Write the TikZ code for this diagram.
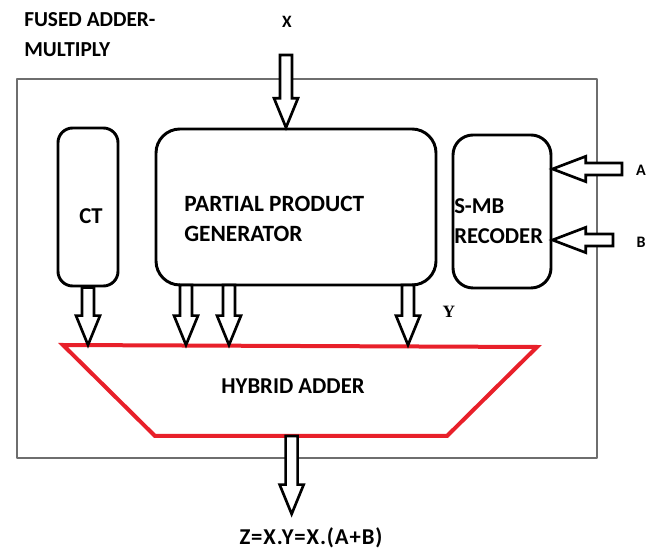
\documentclass[tikz,border=0pt]{standalone}
\usepackage{fontspec}
\setmainfont{Carlito}
\newfontfamily\ylabfont{Liberation Serif}
\usetikzlibrary{calc,positioning}
\definecolor{AdderRed}{HTML}{E8202A}
\definecolor{FrameGray}{HTML}{6E6E6E}

\tikzset{
  blk/.style={draw,line width=2.2pt},
  fat/.style={draw,line width=2pt,line join=miter,fill=white},
  lbl/.style={font=\bfseries\fontsize{17}{23}\selectfont,inner sep=0pt},
  pinlbl/.style={font=\bfseries\fontsize{12}{14}\selectfont,inner sep=0pt},
}
% block arrows: #1 tail, #2 tip
\newcommand{\fatdown}[2]{\draw[fat] let \p1=(#1),\p2=(#2) in
  ({\x1-4.5pt},\y1) -- ({\x1-4.5pt},{\y2+22pt}) -- ({\x1-9pt},{\y2+22pt}) -- (\x1,\y2)
  -- ({\x1+9pt},{\y2+22pt}) -- ({\x1+4.5pt},{\y2+22pt}) -- ({\x1+4.5pt},\y1) -- cycle;}
\newcommand{\fatleft}[2]{\draw[fat] let \p1=(#1),\p2=(#2) in
  (\x1,{\y1-4.5pt}) -- ({\x2+25pt},{\y1-4.5pt}) -- ({\x2+25pt},{\y1-9.5pt}) -- (\x2,\y1)
  -- ({\x2+25pt},{\y1+9.5pt}) -- ({\x2+25pt},{\y1+4.5pt}) -- (\x1,{\y1+4.5pt}) -- cycle;}

\begin{document}
\begin{tikzpicture}[x=0.75pt,y=-0.75pt,line cap=round,line join=round]
  \useasboundingbox (0,0) rectangle (653,555);
  % frame and title
  \draw[FrameGray,line width=0.9pt] (17,79) rectangle (597,458);
  \node[lbl,font=\bfseries\fontsize{16}{22.5}\selectfont,align=left,anchor=west] (title) at (24,35) {FUSED ADDER-\\MULTIPLY};
  % blocks
  \node[blk,rounded corners=11pt,minimum width=45pt,minimum height=118.5pt] (ct) at (88,207) {};
  \node[blk,rounded corners=18pt,minimum width=210pt,minimum height=117pt] (ppg) at (296,207) {};
  \node[blk,rounded corners=15pt,minimum width=73.5pt,minimum height=114.75pt] (smb) at (502,211.5) {};
  \node[lbl] (cttxt) at (91,216) {CT};
  \node[lbl,font=\bfseries\fontsize{17.5}{23}\selectfont,align=left,anchor=west] (ppgtxt) at (184,219) {PARTIAL PRODUCT\\GENERATOR};
  \node[lbl,align=left,anchor=west] (smbtxt) at (454,221) {S-MB\\RECODER};
  % hybrid adder
  \coordinate (adtl) at (63,345);\coordinate (adtr) at (537,347);
  \coordinate (adbr) at (447,436);\coordinate (adbl) at (155,436);
  \draw[AdderRed,line width=3pt,line join=miter] (adtl)--(adtr)--(adbr)--(adbl)--cycle;
  \node[lbl] (adder) at (293,386) {HYBRID ADDER};
  % inputs
  \node[pinlbl,font=\bfseries\fontsize{13}{15}\selectfont] (xlab) at (287,22) {X};
  \node[pinlbl] (alab) at (641,170) {A};
  \node[pinlbl] (blab) at (641,242) {B};
  \coordinate (xin) at (286,55);\coordinate (ain) at (622,169);\coordinate (bin) at (613,240);
  \fatdown{xin}{xin |- ppg.north}
  \fatleft{ain}{ain -| smb.east}
  \fatleft{bin}{bin -| smb.east}
  % into the adder
  \fatdown{ct.south}{ct.south |- adtl}
  \foreach \X in {186,229,408}{\coordinate (pp\X) at (\X,285); \fatdown{pp\X}{pp\X |- adtl}}
  \node[font=\ylabfont\bfseries\fontsize{13}{15}\selectfont,inner sep=0pt] (ylab) at (449,312) {Y};
  % output
  \coordinate (zout) at (291,514);
  \fatdown{$(adbl)!.468!(adbr)$}{zout}
  \node[lbl,font=\bfseries\fontsize{17}{20}\selectfont\addfontfeature{LetterSpace=4}] (zlab) at (311,538) {Z=X.Y=X.(A+B)};
\end{tikzpicture}
\end{document}
